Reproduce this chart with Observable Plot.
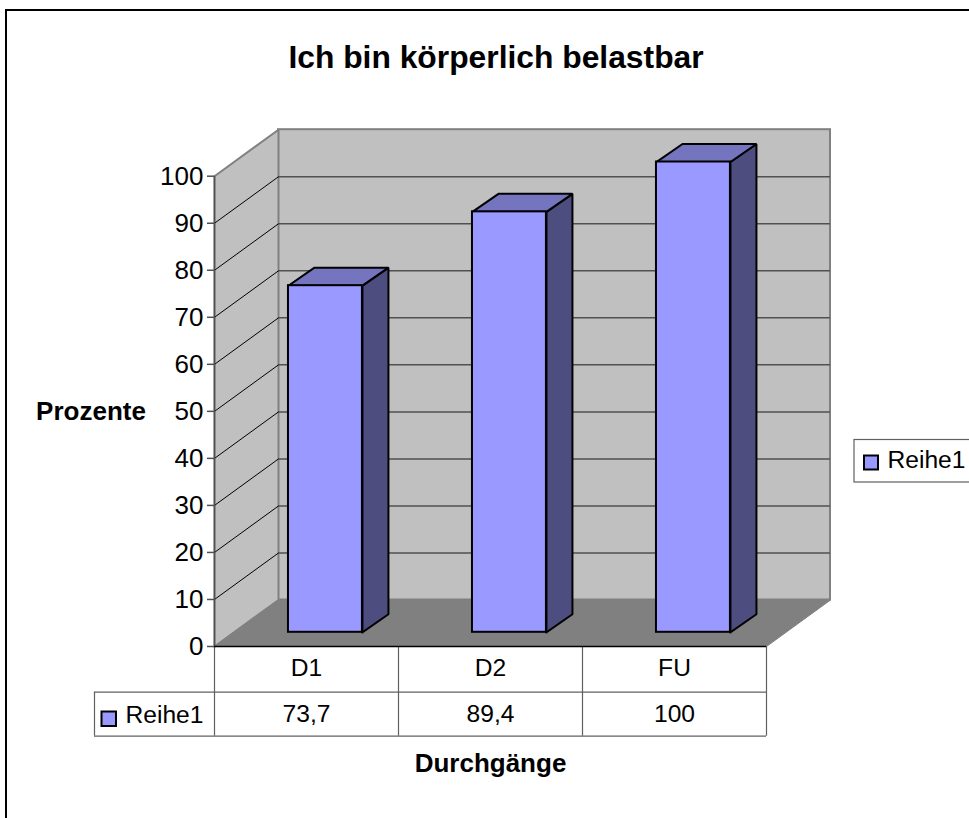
<!DOCTYPE html>
<html lang="de">
<head>
<meta charset="utf-8">
<style>
html,body{margin:0;padding:0;background:#fff;overflow:hidden;width:969px;height:818px}
#chart{position:absolute;left:0;top:0}
#frame{position:absolute;left:5px;top:9px;width:970px;height:820px;border:2px solid #000;box-sizing:border-box}
</style>
<script src="https://cdn.jsdelivr.net/npm/d3@7"></script>
<script src="https://cdn.jsdelivr.net/npm/@observablehq/plot@0.6"></script>
</head>
<body>
<div id="frame"></div>
<div id="chart"></div>
<script>
const categories = ["D1", "D2", "FU"];
const values = [73.7, 89.4, 100];
const valueLabels = ["73,7", "89,4", "100"];
const yTicks = [0, 10, 20, 30, 40, 50, 60, 70, 80, 90, 100];
const seriesName = "Reihe1";
const titleText = "Ich bin körperlich belastbar";
const yLabel = "Prozente";
const xLabel = "Durchgänge";

// scale geometry of the page
const left = 214, right = 766, top0 = 175.7, base = 646, W = 969, H = 818;
const unitX = (right - left) / categories.length, unitY = (base - top0) / 100;
const X = (p) => (p - left) / unitX, Y = (p) => (base - p) / unitY;
// 3D depth in data units
const depthX = 64 / unitX, depthY = 46.5 / unitY;
const barLeft = 0.402, barW = 0.402, barDX = 26 / unitX, barDY = 18 / unitY, barBase = 14.2 / unitY;

const font = "Liberation Sans, Arial, sans-serif";
const poly = (pts, o) => Plot.line(pts, {x: "0", y: "1", strokeLinejoin: "miter", strokeLinecap: "square", ...o});
const closed = (a) => [...a, a[0]];

const barFaces = (build) => values.flatMap((v, i) => {
  const x0 = i + barLeft, x1 = x0 + barW, yb = barBase, yt = barBase + v;
  return build(x0, x1, yb, yt).map((p) => [p[0], p[1], i]);
});
const sidePts = barFaces((x0, x1, yb, yt) => closed([[x1, yb], [x1 + barDX, yb + barDY], [x1 + barDX, yt + barDY], [x1, yt]]));
const topPts = barFaces((x0, x1, yb, yt) => closed([[x0, yt], [x1, yt], [x1 + barDX, yt + barDY], [x0 + barDX, yt + barDY]]));

const tableTop = Y(691.7), tableBottom = Y(735.7);
const colEdges = [0, 1, 2, 3];
const tableFont = 24.6, labelFont = 26;

const plot = Plot.plot({
  width: W, height: H,
  marginLeft: left, marginRight: W - right, marginTop: top0, marginBottom: H - base,
  style: {fontFamily: font, background: "transparent", overflow: "visible"},
  x: {type: "linear", domain: [0, categories.length], axis: null},
  y: {domain: [0, 100], axis: null},
  marks: [
    // walls and floor
    Plot.rect([0], {x1: depthX, x2: 3 + depthX, y1: depthY, y2: 100 + depthY, fill: "#c0c0c0", stroke: "#808080", strokeWidth: 2}),
    poly(closed([[0, 0], [depthX, depthY], [depthX, 100 + depthY], [0, 100]]), {fill: "#c0c0c0", stroke: "#808080", strokeWidth: 2}),
    // grid
    Plot.ruleY(yTicks.slice(1, -1), {x1: depthX, x2: 3 + depthX, y: (d) => d + depthY, stroke: "#505050", strokeWidth: 1.5}),
    poly(yTicks.slice(1, -1).flatMap((t) => [[0, t, t], [depthX, t + depthY, t]]), {z: "2", stroke: "#000", strokeWidth: 1, strokeLinecap: "butt"}),
    poly(closed([[0, 0], [3, 0], [3 + depthX, depthY], [depthX, depthY]]), {fill: "#808080", stroke: "#808080", strokeWidth: 1}),
    // bars
    poly(sidePts, {z: "2", fill: "#4d4d80", stroke: "#000", strokeWidth: 2}),
    poly(topPts, {z: "2", fill: "#7474bf", stroke: "#000", strokeWidth: 2}),
    Plot.rect(values, {x1: (d, i) => i + barLeft, x2: (d, i) => i + barLeft + barW, y1: barBase, y2: (d) => barBase + d, fill: "#9999ff", stroke: "#000", strokeWidth: 2}),
    // value axis
    Plot.ruleX([0], {y1: 0, y2: 100, stroke: "#505050", strokeWidth: 1.5}),
    Plot.axisY(yTicks, {anchor: "left", label: null, tickSize: 7, tickPadding: 4, fontSize: 26, stroke: "#505050", fill: "#000", strokeWidth: 1.5}),
    // data table
    Plot.ruleX(colEdges, {y1: 0, y2: tableBottom, stroke: "#606060", strokeWidth: 1.2}),
    Plot.ruleX([X(94)], {y1: tableTop, y2: tableBottom, stroke: "#606060", strokeWidth: 1.2}),
    Plot.ruleY([tableTop, tableBottom], {x1: X(94), x2: 3, stroke: "#606060", strokeWidth: 1.2}),
    Plot.ruleY([0], {x1: 0, x2: 3, stroke: "#000", strokeWidth: 1.5}),
    Plot.text(categories, {x: (d, i) => i + 0.5, y: Y(668), text: (d) => d, fontSize: tableFont, fill: "#000"}),
    Plot.text(valueLabels, {x: (d, i) => i + 0.5, y: Y(714), text: (d) => d, fontSize: tableFont, fill: "#000"}),
    Plot.rect([seriesName], {x1: X(101.5), x2: X(116), y1: Y(726), y2: Y(711.5), fill: "#9999ff", stroke: "#000", strokeWidth: 2}),
    Plot.text([seriesName], {x: X(125), y: Y(715), text: (d) => d, textAnchor: "start", fontSize: tableFont, fill: "#000"}),
    // legend
    Plot.rect([seriesName], {x1: X(854), x2: X(975), y1: Y(482), y2: Y(439.5), fill: "#fff", stroke: "#606060", strokeWidth: 1.2}),
    Plot.rect([seriesName], {x1: X(864), x2: X(878), y1: Y(469.5), y2: Y(455.5), fill: "#9999ff", stroke: "#000", strokeWidth: 2}),
    Plot.text([seriesName], {x: X(887), y: Y(460), text: (d) => d, textAnchor: "start", fontSize: tableFont, fill: "#000"}),
    // titles
    Plot.text([titleText], {x: X(495.5), y: Y(57), text: (d) => d, fontSize: 31.8, fontWeight: "bold", fill: "#000"}),
    Plot.text([yLabel], {x: X(90.5), y: Y(411), text: (d) => d, fontSize: labelFont, fontWeight: "bold", fill: "#000"}),
    Plot.text([xLabel], {x: X(490), y: Y(763), text: (d) => d, fontSize: labelFont, fontWeight: "bold", fill: "#000"})
  ]
});
document.getElementById("chart").append(plot);
</script>
</body>
</html>
